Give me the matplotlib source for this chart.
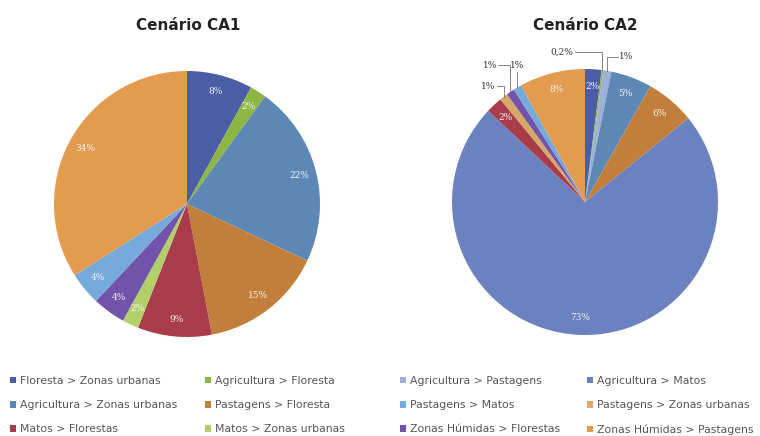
import numpy as np
import matplotlib
matplotlib.use("Agg")
import matplotlib.pyplot as plt
from matplotlib.patches import Patch

# categories (legend order, as it appears row by row)
categorias = ["Floresta > Zonas urbanas", "Agricultura > Floresta",
              "Agricultura > Pastagens", "Agricultura > Matos",
              "Agricultura > Zonas urbanas", "Pastagens > Floresta",
              "Pastagens > Matos", "Pastagens > Zonas urbanas",
              "Matos > Florestas", "Matos > Zonas urbanas",
              "Zonas Húmidas > Florestas", "Zonas Húmidas > Pastagens"]
cores = ["#4A5DA5", "#8DB643", "#9DB0D6", "#6B81C0",
         "#5D88B6", "#C17F3B", "#76AADB", "#D7A866",
         "#A83C48", "#B3CF6A", "#7153A9", "#E39B50"]
cor = dict(zip(categorias, cores))

# Cenário CA1 (clockwise from 12 o'clock)
ca1_cats = ["Floresta > Zonas urbanas", "Agricultura > Floresta",
            "Agricultura > Zonas urbanas", "Pastagens > Floresta",
            "Matos > Florestas", "Matos > Zonas urbanas",
            "Zonas Húmidas > Florestas", "Pastagens > Matos",
            "Zonas Húmidas > Pastagens"]
ca1_vals = [8, 2, 22, 15, 9, 2, 4, 4, 34]
ca1_labels = ["8%", "2%", "22%", "15%", "9%", "2%", "4%", "4%", "34%"]

# Cenário CA2
ca2_cats = ["Floresta > Zonas urbanas", "Agricultura > Floresta",
            "Agricultura > Pastagens", "Agricultura > Zonas urbanas",
            "Pastagens > Floresta", "Agricultura > Matos",
            "Matos > Florestas", "Pastagens > Zonas urbanas",
            "Zonas Húmidas > Florestas", "Pastagens > Matos",
            "Zonas Húmidas > Pastagens"]
ca2_vals = [2, 0.2, 1, 5, 6, 73, 2, 1, 1, 1, 8]
ca2_labels = ["2%", "0,2%", "1%", "5%", "6%", "73%", "2%", "1%", "1%", "1%", "8%"]
# outside labels: (dx, dy) offset of text from the wedge edge, radius units
ca2_out = [None, (-0.22, 0.135), (0.09, 0.105), None, None, None, None,
           (-0.06, 0.08), (-0.10, 0.20), (0, 0.165), None]

fig = plt.figure(figsize=(7.6, 4.36), dpi=100)
W, H = 760, 436


def pie_axes(cx, cy, r):
    return fig.add_axes([(cx - r) / W, (H - cy - r) / H, 2 * r / W, 2 * r / H])


def draw(ax, cats, vals, labels, out=None):
    wedges, _ = ax.pie(vals, colors=[cor[c] for c in cats], startangle=90,
                       counterclock=False, wedgeprops=dict(linewidth=0))
    ax.set_xlim(-1, 1)
    ax.set_ylim(-1, 1)
    for i, (w, lab) in enumerate(zip(wedges, labels)):
        ang = np.deg2rad((w.theta1 + w.theta2) / 2)
        if out is not None and out[i] is not None:
            x0, y0 = np.cos(ang), np.sin(ang)
            dx, dy = out[i]
            tx, ty = x0 + dx, y0 + dy
            if dx == 0:
                ax.plot([x0, x0], [y0, ty - 0.05], color="#555555", lw=0.5,
                        clip_on=False)
                ha = "center"
            else:
                ax.plot([x0, x0, tx + (0.01 if dx < 0 else -0.01)],
                        [y0, ty, ty], color="#555555", lw=0.5, clip_on=False)
                ha = "right" if dx < 0 else "left"
            ax.text(tx, ty, lab, ha=ha, va="center",
                    fontsize=6.5, color="#333333", family="DejaVu Serif")
        else:
            rr = 0.87
            ax.text(rr * np.cos(ang), rr * np.sin(ang), lab, ha="center",
                    va="center", fontsize=6.5, color="#F4F4F4",
                    family="DejaVu Serif")


ax1 = pie_axes(187, 204, 133)
draw(ax1, ca1_cats, ca1_vals, ca1_labels)
ax2 = pie_axes(585, 202, 133)
draw(ax2, ca2_cats, ca2_vals, ca2_labels, ca2_out)

fig.text(188 / W, 1 - 25 / H, "Cenário CA1", ha="center", va="center",
         fontsize=11, fontweight="bold", color="#222222")
fig.text(585 / W, 1 - 25 / H, "Cenário CA2", ha="center", va="center",
         fontsize=11, fontweight="bold", color="#222222")

# legend, four columns of three rows
col_x = [10, 205, 400, 587]
for j in range(4):
    cats = categorias[j::4]
    handles = [Patch(facecolor=cor[c], edgecolor="none") for c in cats]
    fig.legend(handles, cats, loc="upper left",
               bbox_to_anchor=(col_x[j] / W, 1 - 376 / H), frameon=False,
               fontsize=7.8, labelcolor="#555555", handlelength=0.55,
               handleheight=0.55, handletextpad=0.4, labelspacing=1.3,
               borderaxespad=0, borderpad=0)

fig.savefig("out.png", dpi=100)
